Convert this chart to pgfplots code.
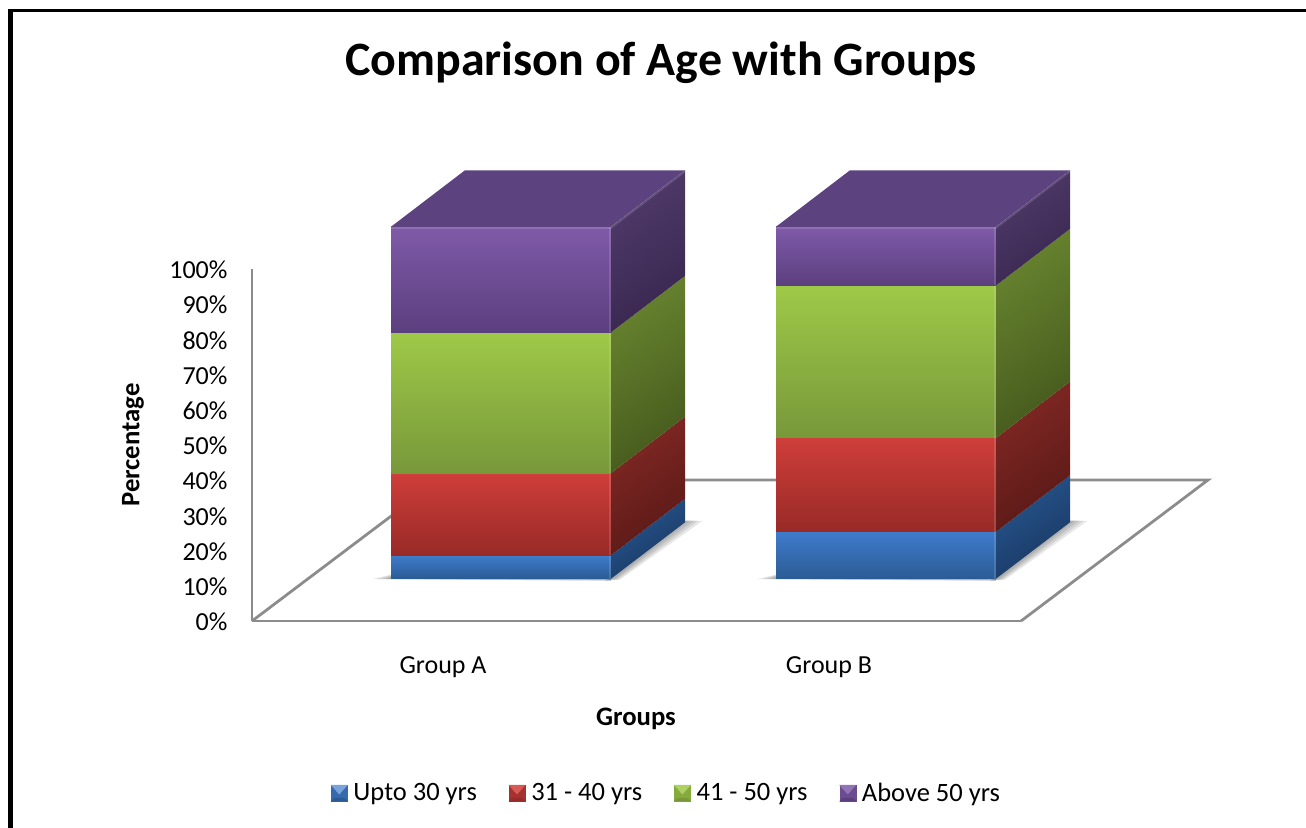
\documentclass[border=0pt]{standalone}
\usepackage{pgfplots}
\pgfplotsset{compat=1.18}
\usepackage{fontspec}
\setmainfont{Carlito}

% one unit of length is one pixel of the final picture
\newcommand{\pxfont}[1]{\fontsize{#1bp}{#1bp}\selectfont}

\definecolor{axisgrey}{HTML}{8C8C8C}
\definecolor{blueA}{HTML}{3F7CCB}\definecolor{blueB}{HTML}{2B5B95}
\definecolor{blueC}{HTML}{26568F}\definecolor{blueD}{HTML}{193760}
\definecolor{redA}{HTML}{CF3E3A}\definecolor{redB}{HTML}{982A27}
\definecolor{redC}{HTML}{822825}\definecolor{redD}{HTML}{591916}
\definecolor{greenA}{HTML}{9EC948}\definecolor{greenB}{HTML}{78983A}
\definecolor{greenC}{HTML}{67842F}\definecolor{greenD}{HTML}{465A1D}
\definecolor{purpleA}{HTML}{7F5AA9}\definecolor{purpleB}{HTML}{5C3F7E}
\definecolor{purpleC}{HTML}{503A6A}\definecolor{purpleD}{HTML}{38274F}
\definecolor{purpleT}{HTML}{5D4280}

% floor level of the bars and the rise of the depth offset, in percent units
\def\barbase{12.0}
\def\barrise{16.05}

% one stacked segment: left x, lower and upper cumulative percent, four colours
\newcommand{\segment}[7]{%
  \addplot[forget plot,draw=none,shade,top color=#4,bottom color=#5]
    coordinates {(#1,#2+\barbase) (#1+220,#2+\barbase) (#1+220,#3+\barbase) (#1,#3+\barbase)} --cycle;
  \addplot[forget plot,draw=none,shade,top color=#6,bottom color=#7,shading angle=35]
    coordinates {(#1+220,#2+\barbase) (#1+294,#2+\barbase+\barrise) (#1+294,#3+\barbase+\barrise) (#1+220,#3+\barbase)} --cycle;
  \addplot[forget plot,draw=white,draw opacity=.13,line width=2bp]
    coordinates {(#1+219,#2+\barbase) (#1+219,#3+\barbase)};
}
% lid of a bar
\newcommand{\lid}[1]{%
  \addplot[forget plot,draw=none,fill=purpleT]
    coordinates {(#1,100+\barbase) (#1+74,100+\barbase+\barrise) (#1+294,100+\barbase+\barrise) (#1+220,100+\barbase)} --cycle;
  \addplot[forget plot,draw=white,draw opacity=.13,line width=2bp]
    coordinates {(#1,99.7+\barbase) (#1+220,99.7+\barbase) (#1+294,99.7+\barbase+\barrise)};
}
% soft contact shadow on the floor, built from thin layers
\newcommand{\shadowlayer}[3]{%
  \addplot[forget plot,draw=none,fill=black,fill opacity=.09]
    coordinates {(#1+214,\barbase-#3) (#1+221+#2,\barbase-#3*0.4) (#1+294+#2*2.2,\barbase+\barrise+0.4) (#1+294,\barbase+\barrise+0.5) (#1+220,\barbase)} --cycle;
  \addplot[forget plot,draw=none,fill=black,fill opacity=.09]
    coordinates {(#1-#2*2.4,\barbase-0.1) (#1,\barbase+#3*2) (#1+220,\barbase) (#1+220,\barbase-#3)} --cycle;
}
\newcommand{\barshadow}[1]{%
  \shadowlayer{#1}{8}{0.6}\shadowlayer{#1}{6}{0.5}\shadowlayer{#1}{4}{0.4}\shadowlayer{#1}{2}{0.3}
}
% bevelled legend key
\newcommand{\legendkey}[3]{%
  \fill[#2] (0bp,-8bp) rectangle (16bp,8bp);
  \fill[#3] (0bp,-8bp) -- (16bp,-8bp) -- (13bp,-5bp) -- (3bp,-5bp) -- cycle;
  \fill[#1] (0bp,8bp) -- (16bp,8bp) -- (8bp,-1bp) -- cycle;
}

\begin{document}
\begin{tikzpicture}[x=1bp,y=1bp]
\useasboundingbox (0,0) rectangle (1306bp,-828bp);
% frame of the chart area
\draw[black,line width=4.5bp] (10.5bp,-828bp) -- (10.5bp,-8.5bp);
\draw[black,line width=3bp] (8.5bp,-10.5bp) -- (1306bp,-10.5bp);

\begin{axis}[
  at={(252bp,-621bp)}, anchor=south west,
  scale only axis, width=958bp, height=352bp,
  xmin=252, xmax=1210, ymin=0, ymax=100,
  clip=false,
  axis lines*=left,
  x axis line style={draw=none},
  y axis line style={draw=none},
  major tick length=0pt,
  ytick={0,10,...,100},
  yticklabels={0\%,10\%,20\%,30\%,40\%,50\%,60\%,70\%,80\%,90\%,100\%},
  xtick={443,829},
  xticklabels={Group A,Group B},
  tick label style={font=\pxfont{26},text=black},
  xticklabel style={yshift=-32bp},
  yticklabel style={xshift=-21bp,yshift=-1bp},
  every axis title shift=0pt,
  title={Comparison of Age with Groups},
  title style={at={(axis cs:661,158.5)},anchor=center,font=\pxfont{47.9}\bfseries},
  xlabel={Groups},
  xlabel style={at={(axis cs:636,-27.8)},anchor=center,font=\pxfont{26.7}\bfseries},
  ylabel={Percentage},
  ylabel style={at={(axis cs:133,50)},anchor=center,rotate=0,font=\pxfont{26.7}\bfseries},
  legend columns=4,
  legend cell align=left,
  legend style={at={(axis cs:666.5,-48.9)},anchor=center,draw=none,fill=none,
    font=\pxfont{26.5},
    /tikz/every even column/.append style={column sep=30bp}},
]
\addlegendimage{legend image code/.code={\legendkey{blueA!70!white}{blueA!85!black}{blueB}}}
\addlegendentry{\hspace{4bp}Upto 30 yrs}
\addlegendimage{legend image code/.code={\legendkey{redA!85!white}{redA!80!black}{redB}}}
\addlegendentry{\hspace{4bp}31 - 40 yrs}
\addlegendimage{legend image code/.code={\legendkey{greenA!85!white}{greenA!85!black}{greenB}}}
\addlegendentry{\hspace{4bp}41 - 50 yrs}
\addlegendimage{legend image code/.code={\legendkey{purpleA!85!white}{purpleA!85!black}{purpleB}}}
\addlegendentry{\hspace{4bp}Above 50 yrs}

% walls and floor of the plot
\addplot[forget plot,draw=axisgrey,line width=2.8bp]
  coordinates {(252,0) (252,100)};
\addplot[forget plot,draw=axisgrey,line width=2bp]
  coordinates {(252,0) (1021,0)};
\addplot[forget plot,draw=axisgrey,line width=2.8bp]
  coordinates {(252,0) (439,40.06) (1208,40.06) (1021,0)};

% Group A
\barshadow{391}
\segment{391}{0}{6.67}{blueA}{blueB}{blueC}{blueD}
\segment{391}{6.67}{30}{redA}{redB}{redC}{redD}
\segment{391}{30}{70}{greenA}{greenB}{greenC}{greenD}
\segment{391}{70}{100}{purpleA}{purpleB}{purpleC}{purpleD}
\lid{391}

% Group B
\barshadow{776}
\segment{776}{0}{13.33}{blueA}{blueB}{blueC}{blueD}
\segment{776}{13.33}{40}{redA}{redB}{redC}{redD}
\segment{776}{40}{83.33}{greenA}{greenB}{greenC}{greenD}
\segment{776}{83.33}{100}{purpleA}{purpleB}{purpleC}{purpleD}
\lid{776}
\end{axis}
\end{tikzpicture}
\end{document}
